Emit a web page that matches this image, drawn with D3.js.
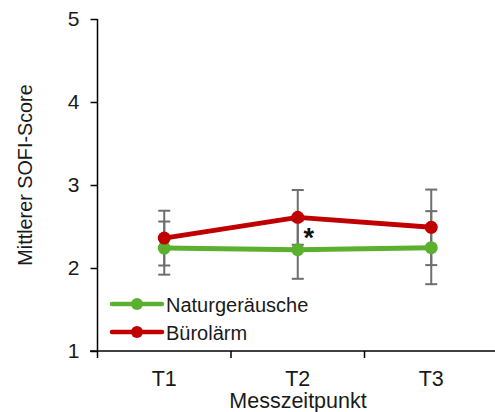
<!DOCTYPE html>
<html><head><meta charset="utf-8">
<script src="https://cdn.jsdelivr.net/npm/d3@7"></script>
<style>body{margin:0;background:#fff}text{font-family:Arial,"Liberation Sans",sans-serif}</style>
</head><body><svg id="c" width="495" height="412"></svg>
<script>
const categories = ["T1","T2","T3"];
const natur = [2.24, 2.22, 2.245];
const naturErr = [0.32, 0.35, 0.44];
const buero = [2.36, 2.61, 2.49];
const bueroErr = [0.33, 0.33, 0.455];
const yTicks = [1,2,3,4,5];

const svg = d3.select("#c");
const x = d3.scaleBand().domain(categories).range([97.5, 498]);
const y = d3.scaleLinear().domain([1,5]).range([351, 19]);

const series = [
  {name:"Naturgeräusche", vals:natur, err:naturErr, color:"#5bb030"},
  {name:"Bürolärm", vals:buero, err:bueroErr, color:"#c00000"}
];
const cx = c => x(c) + x.bandwidth()/2;

// error bars
series.forEach(s => {
  const g = svg.append("g").attr("stroke","#6e6e6e").attr("stroke-width",2);
  categories.forEach((c,i) => {
    const x0 = cx(c), yt = y(s.vals[i]+s.err[i]), yb = y(s.vals[i]-s.err[i]);
    g.append("line").attr("x1",x0).attr("x2",x0).attr("y1",yt).attr("y2",yb);
    g.append("line").attr("x1",x0-6).attr("x2",x0+6).attr("y1",yt).attr("y2",yt);
    g.append("line").attr("x1",x0-6).attr("x2",x0+6).attr("y1",yb).attr("y2",yb);
  });
});

// lines
const line = d3.line().x((d,i)=>cx(categories[i])).y(d=>y(d));
series.forEach(s => {
  svg.append("path").attr("d", line(s.vals)).attr("fill","none")
    .attr("stroke", s.color).attr("stroke-width",5).attr("stroke-linejoin","round");
  svg.selectAll(null).data(s.vals).enter().append("circle")
    .attr("cx",(d,i)=>cx(categories[i])).attr("cy",d=>y(d)).attr("r",6.5).attr("fill",s.color);
});

// asterisk
svg.append("text").attr("x", cx("T2")+11).attr("y", y(2.61)+30).attr("text-anchor","middle")
  .attr("font-size",27).attr("font-weight","bold").attr("fill","#111").text("*");

// axes
const yAxis = d3.axisLeft(y).tickValues(yTicks).tickSize(7).tickPadding(11).tickFormat(d3.format("d"));
const gy = svg.append("g").attr("transform","translate(97.5,0)").call(yAxis);
gy.select(".domain").attr("stroke","#000").attr("stroke-width",1.5).attr("d","M0,19V351");
gy.selectAll(".tick line").attr("stroke","#000").attr("stroke-width",1.5);
gy.selectAll("text").attr("font-size",21).attr("fill","#1a1a1a");

const xAxis = d3.axisBottom(x).tickSize(0);
const gx = svg.append("g").attr("transform","translate(0,351)").call(xAxis);
gx.select(".domain").attr("stroke","#000").attr("stroke-width",1.5).attr("d","M90,0H495");
gx.selectAll("text").attr("font-size",21.5).attr("fill","#1a1a1a").attr("y",35).attr("dy",0);
const bounds = categories.map(c => x(c));
gx.selectAll(".btick").data(bounds).enter().append("line")
  .attr("x1",d=>d).attr("x2",d=>d).attr("y1",0).attr("y2",7).attr("stroke","#000").attr("stroke-width",1.5);

// axis titles
svg.append("text").attr("x", 298).attr("y", 408).attr("text-anchor","middle")
  .attr("font-size",21.5).attr("fill","#1a1a1a").text("Messzeitpunkt");
svg.append("text").attr("transform","translate(32,175) rotate(-90)").attr("text-anchor","middle")
  .attr("font-size",19.8).attr("fill","#1a1a1a").text("Mittlerer SOFI-Score");

// legend
series.forEach((s,i) => {
  const ly = 304 + i*28;
  svg.append("line").attr("x1",112).attr("x2",162).attr("y1",ly).attr("y2",ly)
    .attr("stroke",s.color).attr("stroke-width",4.5).attr("stroke-linecap","round");
  svg.append("circle").attr("cx",137).attr("cy",ly).attr("r",6).attr("fill",s.color);
  svg.append("text").attr("x",166).attr("y",ly+7.5).attr("font-size",20).attr("fill","#1a1a1a").text(s.name);
});
</script></body></html>
